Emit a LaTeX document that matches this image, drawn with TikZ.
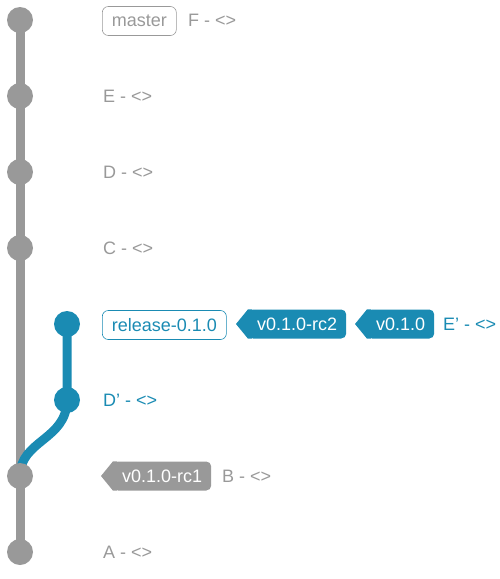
\documentclass[tikz,border=0pt]{standalone}
\usepackage{fontspec}
\setmainfont{Liberation Sans}
\definecolor{gitgray}{HTML}{999999}
\definecolor{gitblue}{HTML}{1A8BB3}
\newcommand{\apos}{\char"0027\relax}
\begin{document}
\begin{tikzpicture}[x=1pt,y=-1pt,
  commit/.style={circle,fill=#1,minimum size=26pt,inner sep=0pt},
  branchline/.style={line width=9pt,draw=#1},
  msg/.style={anchor=west,text=#1,font=\fontsize{18}{20}\selectfont,inner sep=0pt},
  branchbox/.style={anchor=west,draw=#1,text=#1,rounded corners=6pt,line width=0.6pt,minimum height=29pt,inner xsep=9.5pt,font=\fontsize{18}{20}\selectfont},
  tagbody/.style={anchor=west,fill=#1,text=white,rounded corners=5pt,minimum height=29pt,inner xsep=9pt,font=\fontsize{18}{20}\selectfont}]
\useasboundingbox (0,0) rectangle (500,579);
% commits
\coordinate (A) at (20,552);
\coordinate (B) at (20,476);
\coordinate (C) at (20,248);
\coordinate (D) at (20,172);
\coordinate (E) at (20,96);
\coordinate (F) at (20,20);
\coordinate (Dp) at (67,400);
\coordinate (Ep) at (67,324);
% lines
\draw[branchline=gitgray] (A) -- (F);
\draw[branchline=gitblue] (B) .. controls (20,440) and (67,440) .. (Dp) -- (Ep);
\foreach \c in {A,B,C,D,E,F} \node[commit=gitgray] (n\c) at (\c) {};
\foreach \c in {Dp,Ep} \node[commit=gitblue] (n\c) at (\c) {};
% messages
\node[msg=gitgray] (mA) at (103,552) {A - <>};
\node[msg=gitgray] (mC) at (103,248) {C - <>};
\node[msg=gitgray] (mD) at (103,172) {D - <>};
\node[msg=gitgray] (mE) at (103,96) {E - <>};
\node[branchbox=gitgray] (master) at (102,21) {master};
\node[msg=gitgray] (mF) at (188,20) {F - <>};
\node[msg=gitblue] (mDp) at (103,400) {D\apos{} - <>};
% release line
\node[branchbox=gitblue] (rel) at (102,325) {release-0.1.0};
\node[tagbody=gitblue] (rc2) at (248,324) {v0.1.0-rc2};
\fill[gitblue] ([xshift=4pt]rc2.north west) -- (rc2.north west) -- ([xshift=-12pt]rc2.west) -- (rc2.south west) -- ([xshift=4pt]rc2.south west) -- cycle;
\node[tagbody=gitblue] (v010) at (367,324) {v0.1.0};
\fill[gitblue] ([xshift=4pt]v010.north west) -- (v010.north west) -- ([xshift=-12pt]v010.west) -- (v010.south west) -- ([xshift=4pt]v010.south west) -- cycle;
\node[msg=gitblue] (mEp) at (443,324) {E\apos{} - <>};
% rc1
\node[tagbody=gitgray] (rc1) at (113,476) {v0.1.0-rc1};
\fill[gitgray] ([xshift=4pt]rc1.north west) -- (rc1.north west) -- ([xshift=-12pt]rc1.west) -- (rc1.south west) -- ([xshift=4pt]rc1.south west) -- cycle;
\node[msg=gitgray] (mB) at (222,476) {B - <>};
\end{tikzpicture}
\end{document}
